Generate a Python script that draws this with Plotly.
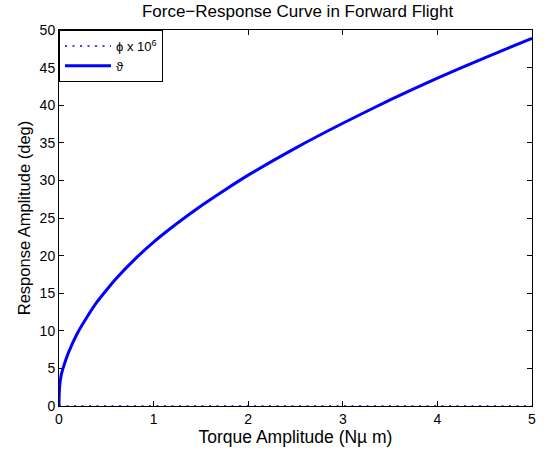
import plotly.graph_objects as go

# Data
torque = [0, 0.002, 0.01, 0.025, 0.05, 0.1, 0.2, 0.3, 0.4, 0.5, 0.6, 0.8, 1.0,
          1.25, 1.5, 1.75, 2.0, 2.5, 3.0, 3.5, 4.0, 4.5, 5.0]
theta = [0, 1.5, 3.0, 4.2, 5.3, 7.1, 9.8, 11.9, 13.8, 15.4, 16.9, 19.5, 21.8,
         24.3, 26.6, 28.7, 30.7, 34.3, 37.6, 40.7, 43.6, 46.3, 48.9]
phi_x = [0, 1, 2, 3, 4, 5]
phi_scaled = [0, 0, 0, 0, 0, 0]

x_ticks = [0, 1, 2, 3, 4, 5]
y_ticks = [0, 5, 10, 15, 20, 25, 30, 35, 40, 45, 50]

FONT = "Liberation Sans, Arial, sans-serif"

fig = go.Figure()
fig.add_trace(go.Scatter(x=phi_x, y=phi_scaled, mode="lines",
                         name="ϕ x 10<sup>6</sup>", cliponaxis=False,
                         line=dict(color="#0000ff", width=1.5, dash="2px,5.5px")))
fig.add_trace(go.Scatter(x=torque, y=theta, mode="lines", name="ϑ", cliponaxis=False,
                         line=dict(color="#0000ff", width=3, shape="spline", smoothing=0.5)))

axis_common = dict(showgrid=False, zeroline=False, showline=True, linecolor="black",
                   linewidth=1, mirror="ticks", ticks="inside", ticklen=5,
                   tickcolor="black", layer="below traces",
                   tickfont=dict(family=FONT, size=14, color="black"))

fig.update_layout(
    width=544, height=453,
    margin=dict(l=59, r=8, t=30, b=47),
    paper_bgcolor="white", plot_bgcolor="white",
    title=dict(text="Force−Response Curve in Forward Flight", x=0.547, xanchor="center",
               yref="container", y=1 - 11 / 453, yanchor="middle",
               font=dict(family=FONT, size=17, color="black")),
    xaxis=dict(range=[0, 5], tickvals=x_ticks,
               title=dict(text="Torque Amplitude (Nµ m)", standoff=4,
                          font=dict(family=FONT, size=17.5, color="black")),
               **axis_common),
    yaxis=dict(range=[0, 50], tickvals=y_ticks,
               title=dict(text="Response Amplitude (deg)", standoff=4,
                          font=dict(family=FONT, size=16.5, color="black")),
               **axis_common),
    legend=dict(x=0, y=1, xanchor="left", yanchor="top",
                bordercolor="black", borderwidth=1, bgcolor="white",
                font=dict(family=FONT, size=13, color="black"),
                tracegroupgap=0, itemwidth=46),
    showlegend=True,
)

fig.write_html("out.html")
